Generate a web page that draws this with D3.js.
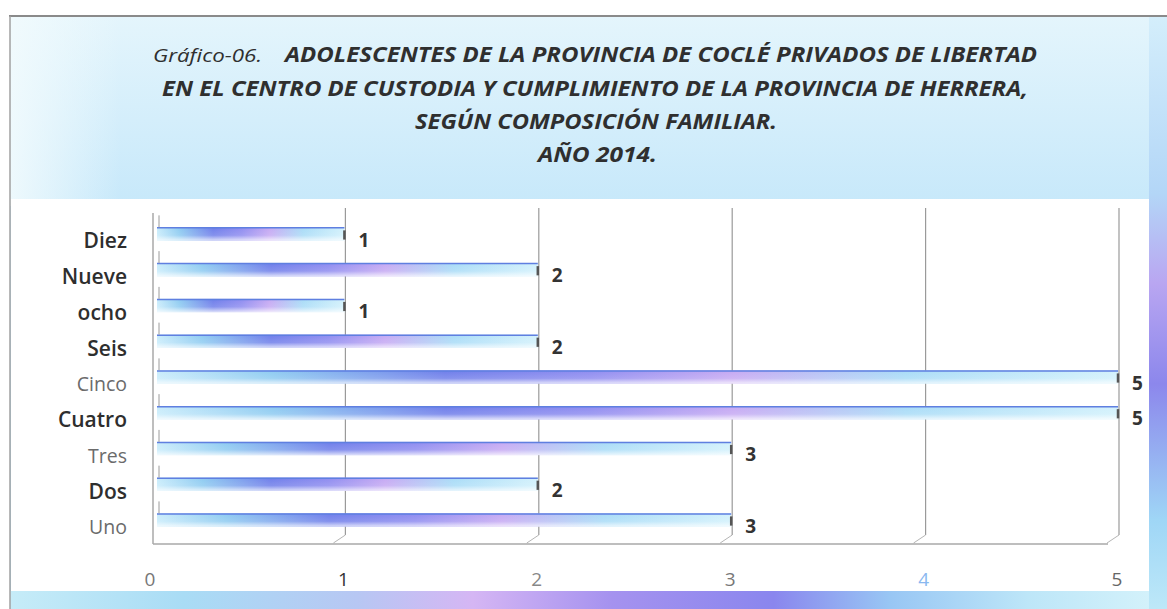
<!DOCTYPE html>
<html>
<head>
<meta charset="utf-8">
<script src="https://cdn.jsdelivr.net/npm/d3@7"></script>
<style>
  body { margin: 0; background: #fff; }
  text { font-family: "Open Sans", "Noto Sans", sans-serif; }
</style>
</head>
<body>
<div id="chart"></div>
<script>
var categories = ["Diez", "Nueve", "ocho", "Seis", "Cinco", "Cuatro", "Tres", "Dos", "Uno"];
var values = [1, 2, 1, 2, 5, 5, 3, 2, 3];
var labelColors = ["#2e2e2e", "#2e2e2e", "#2e2e2e", "#2e2e2e", "#6b6b6b", "#2e2e2e", "#6b6b6b", "#2e2e2e", "#6b6b6b"];
var labelWeights = [600, 600, 600, 600, 400, 600, 400, 600, 400];
var tickValues = [0, 1, 2, 3, 4, 5];
var tickColors = ["#777", "#333", "#888", "#777", "#8ab8f0", "#666"];
var titlePrefix = "Gráfico-06.";
var titleLines = [
  "ADOLESCENTES DE LA PROVINCIA DE COCLÉ PRIVADOS DE LIBERTAD",
  "EN EL CENTRO DE CUSTODIA Y CUMPLIMIENTO DE LA PROVINCIA DE HERRERA,",
  "SEGÚN COMPOSICIÓN FAMILIAR.",
  "AÑO 2014."
];

var width = 1167, height = 609;
var svg = d3.select("#chart").append("svg")
  .attr("width", width).attr("height", height);

var defs = svg.append("defs");

// background gradients
var bg = defs.append("linearGradient").attr("id", "bg")
  .attr("x1", 0).attr("y1", 0).attr("x2", 0).attr("y2", 1);
bg.append("stop").attr("offset", 0).attr("stop-color", "#e4f5fc");
bg.append("stop").attr("offset", 0.35).attr("stop-color", "#c4e7fa");
bg.append("stop").attr("offset", 1).attr("stop-color", "#addcf7");

var leftGlow = defs.append("linearGradient").attr("id", "leftGlow");
leftGlow.append("stop").attr("offset", 0).attr("stop-color", "#f2fbfd").attr("stop-opacity", 0.9);
leftGlow.append("stop").attr("offset", 1).attr("stop-color", "#f2fbfd").attr("stop-opacity", 0);

var bottomBand = defs.append("linearGradient").attr("id", "bottomBand");
[[0, "#c6ecf8"], [0.15, "#a9dcf5"], [0.3, "#b7c7f3"], [0.4, "#d5b6f4"], [0.52, "#a592ef"], [0.66, "#8a86ee"], [0.76, "#98c6f4"], [0.88, "#bde6f8"], [1, "#d6f3fb"]]
  .forEach(function(s) { bottomBand.append("stop").attr("offset", s[0]).attr("stop-color", s[1]); });

var rightBand = defs.append("linearGradient").attr("id", "rightBand")
  .attr("x1", 0).attr("y1", 0).attr("x2", 0).attr("y2", 1);
[[0, "#d4eefb"], [0.3, "#b3d6f7"], [0.45, "#b9a6f1"], [0.62, "#8c87ec"], [0.85, "#9fd6f6"], [1, "#bde8f8"]]
  .forEach(function(s) { rightBand.append("stop").attr("offset", s[0]).attr("stop-color", s[1]); });

var barGrad = defs.append("linearGradient").attr("id", "barGrad");
[[0, "#c9ecfb"], [0.12, "#8ecbf1"], [0.3, "#6f7eea"], [0.45, "#8f8cf0"], [0.6, "#c6a9f3"], [0.78, "#a9dcf7"], [1, "#d2f1fc"]]
  .forEach(function(s) { barGrad.append("stop").attr("offset", s[0]).attr("stop-color", s[1]); });

var barShade = defs.append("linearGradient").attr("id", "barShade")
  .attr("x1", 0).attr("y1", 0).attr("x2", 0).attr("y2", 1);
barShade.append("stop").attr("offset", 0).attr("stop-color", "#fff").attr("stop-opacity", 0);
barShade.append("stop").attr("offset", 0.6).attr("stop-color", "#fff").attr("stop-opacity", 0.15);
barShade.append("stop").attr("offset", 1).attr("stop-color", "#fff").attr("stop-opacity", 0.75);

// frame and background
svg.append("rect").attr("x", 10).attr("y", 16).attr("width", width - 10).attr("height", height - 16)
  .attr("fill", "url(#bg)");
svg.append("rect").attr("x", 10).attr("y", 16).attr("width", 110).attr("height", 190)
  .attr("fill", "url(#leftGlow)");
svg.append("rect").attr("x", 10).attr("y", 591).attr("width", width - 10).attr("height", 18)
  .attr("fill", "url(#bottomBand)");
svg.append("rect").attr("x", 1149).attr("y", 16).attr("width", 18).attr("height", 593)
  .attr("fill", "url(#rightBand)");
svg.append("rect").attr("x", 11).attr("y", 199).attr("width", 1138).attr("height", 392)
  .attr("fill", "#fff");
svg.append("line").attr("x1", 9).attr("x2", width).attr("y1", 16).attr("y2", 16)
  .attr("stroke", "#8a8a8a").attr("stroke-width", 2);
svg.append("line").attr("x1", 10).attr("x2", 10).attr("y1", 16).attr("y2", height)
  .attr("stroke", "#a0a0a0").attr("stroke-width", 1.5);

// title (widths fitted to the original layout)
var title = svg.append("g").attr("fill", "#2f2f2f")
  .attr("font-style", "italic").attr("font-weight", "bold").attr("font-size", 22);
title.append("text").attr("x", 153).attr("y", 62)
  .attr("font-weight", "normal").attr("font-size", 19)
  .attr("textLength", 109).attr("lengthAdjust", "spacingAndGlyphs")
  .text(titlePrefix);
var titlePos = [[285, 62, 752], [162, 95.5, 866], [415, 129, 362], [538, 162, 119]];
titleLines.forEach(function(l, i) {
  title.append("text").attr("x", titlePos[i][0]).attr("y", titlePos[i][1])
    .attr("textLength", titlePos[i][2]).attr("lengthAdjust", "spacingAndGlyphs")
    .text(l);
});

// scales
var x = d3.scaleLinear().domain([0, 5]).range([153, 1120]);
var y = d3.scaleBand().domain(categories).range([217, 537]).paddingInner(0.63).paddingOuter(0.29);

// gridlines with small 3D floor offset
var grid = svg.append("g");
grid.selectAll("line.g").data(tickValues.slice(1)).enter().append("line")
  .attr("x1", function(d) { return x(d) - 1; }).attr("x2", function(d) { return x(d) - 1; })
  .attr("y1", 208).attr("y2", 535)
  .attr("stroke", "#9a9a9a").attr("stroke-width", 1.2);
grid.selectAll("line.f").data(tickValues.slice(1)).enter().append("line")
  .attr("x1", function(d) { return x(d) - 1; }).attr("x2", function(d) { return x(d) - 13; })
  .attr("y1", 535).attr("y2", 543)
  .attr("stroke", "#b5b5b5").attr("stroke-width", 1);
svg.append("line").attr("x1", x(0)).attr("x2", x(5) - 12).attr("y1", 544).attr("y2", 544)
  .attr("stroke", "#a8a8a8").attr("stroke-width", 1.5);
svg.append("line").attr("x1", x(0)).attr("x2", x(0)).attr("y1", 213).attr("y2", 544)
  .attr("stroke", "#a8a8a8").attr("stroke-width", 1.5);

// bars
var bars = svg.append("g").selectAll("g").data(categories).enter().append("g");
bars.append("rect")
  .attr("x", x(0) + 4)
  .attr("y", function(d) { return y(d); })
  .attr("width", function(d, i) { return x(values[i]) - x(0) - 6; })
  .attr("height", y.bandwidth())
  .attr("fill", "url(#barGrad)");
bars.append("rect")
  .attr("x", x(0) + 4)
  .attr("y", function(d) { return y(d); })
  .attr("width", function(d, i) { return x(values[i]) - x(0) - 6; })
  .attr("height", y.bandwidth())
  .attr("fill", "url(#barShade)");
bars.append("line")
  .attr("x1", x(0) + 4)
  .attr("x2", function(d, i) { return x(values[i]) - 2; })
  .attr("y1", function(d) { return y(d) + 0.5; })
  .attr("y2", function(d) { return y(d) + 0.5; })
  .attr("stroke", "#5f7fe0").attr("stroke-width", 1.5);
bars.append("line")
  .attr("x1", function(d, i) { return x(values[i]) - 2; })
  .attr("x2", function(d, i) { return x(values[i]) - 2; })
  .attr("y1", function(d) { return y(d) + 3; })
  .attr("y2", function(d) { return y(d) + y.bandwidth() - 1; })
  .attr("stroke", "#555").attr("stroke-width", 2.5);
bars.append("line")
  .attr("x1", x(0) + 6).attr("x2", x(0) + 6)
  .attr("y1", function(d) { return y(d) - 12; })
  .attr("y2", function(d) { return y(d); })
  .attr("stroke", "#9a9a9a").attr("stroke-width", 1);

// value labels
bars.append("text")
  .attr("x", function(d, i) { return x(values[i]) + 12; })
  .attr("y", function(d) { return y(d) + y.bandwidth() + 6; })
  .attr("font-size", 19).attr("font-weight", "bold").attr("fill", "#333")
  .text(function(d, i) { return values[i]; });

// category labels
svg.append("g").selectAll("text").data(categories).enter().append("text")
  .attr("x", 127)
  .attr("y", function(d) { return y(d) + 21; })
  .attr("text-anchor", "end")
  .attr("font-size", function(d, i) { return labelWeights[i] > 400 ? 21 : 19.5; })
  .attr("font-weight", function(d, i) { return labelWeights[i]; })
  .attr("fill", function(d, i) { return labelColors[i]; })
  .text(function(d) { return d; });

// x tick labels
svg.append("g").selectAll("text").data(tickValues).enter().append("text")
  .attr("x", function(d) { return x(d) - 3; })
  .attr("y", 586)
  .attr("text-anchor", "middle").attr("font-size", 19)
  .attr("fill", function(d, i) { return tickColors[i]; })
  .text(function(d) { return d; });
</script>
</body>
</html>
